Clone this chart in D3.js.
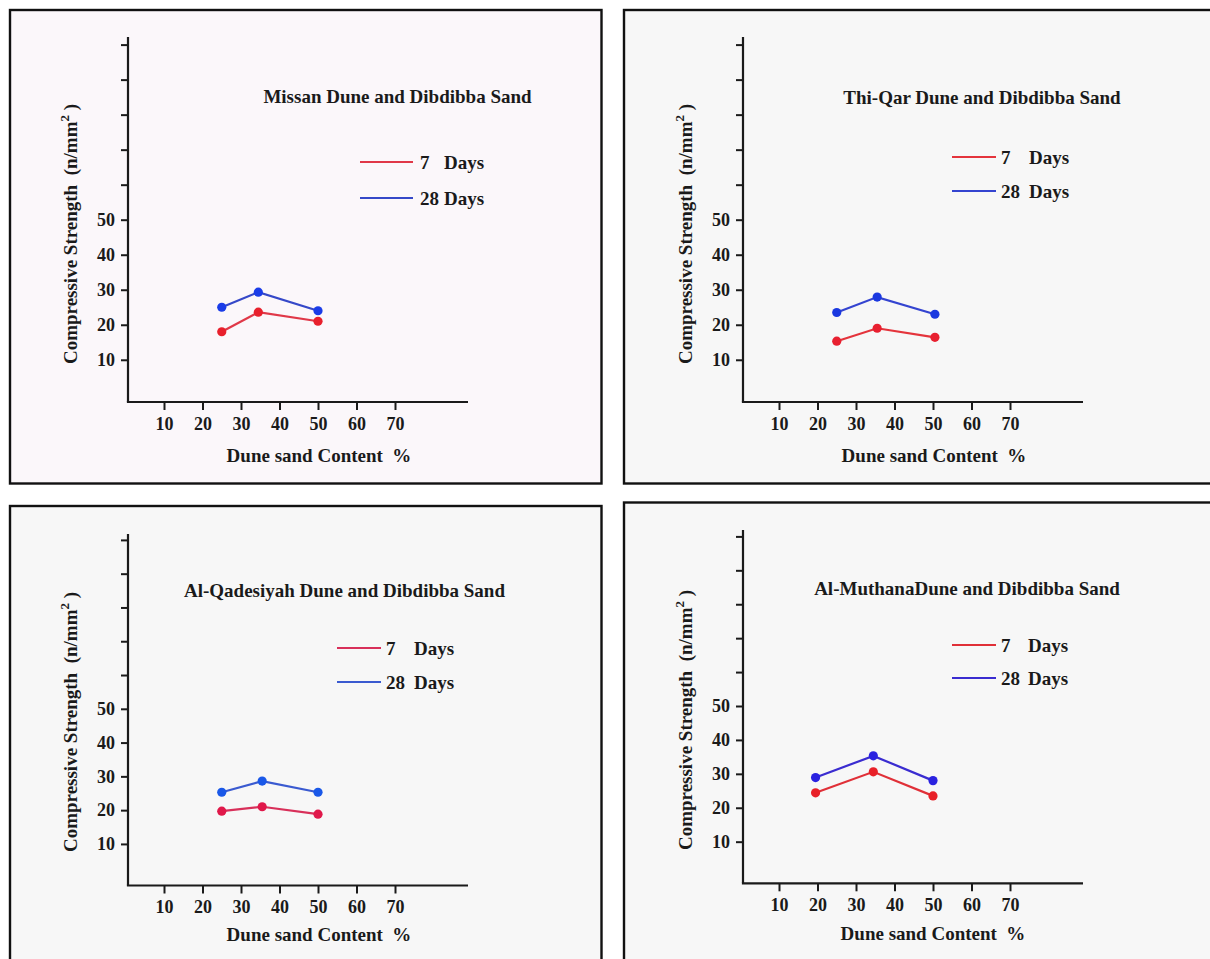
<!DOCTYPE html>
<html>
<head>
<meta charset="utf-8">
<script src="https://cdn.jsdelivr.net/npm/d3@7"></script>
<style>
  html, body { margin: 0; padding: 0; background: #ffffff; }
  svg { display: block; }
  text { font-family: "Liberation Serif", "Times New Roman", serif; font-weight: bold; fill: #1a1a1a; white-space: pre; }
</style>
</head>
<body>
<svg id="chart" width="1210" height="959"></svg>
<script>
// ---------------- DATA ----------------
const panelTitles = [
  "Missan Dune and Dibdibba Sand",
  "Thi-Qar Dune and Dibdibba Sand",
  "Al-Qadesiyah Dune and Dibdibba Sand",
  "Al-MuthanaDune and Dibdibba Sand"
];
const duneContent = [
  [25, 34.5, 50],
  [25, 35.5, 50.5],
  [25, 35.5, 50],
  [19.5, 34.5, 50]
];
const strength7Days = [
  [18, 23.6, 21],
  [15.3, 19, 16.4],
  [19.7, 21, 18.8],
  [24.4, 30.6, 23.5]
];
const strength28Days = [
  [25, 29.3, 24],
  [23.5, 27.9, 23],
  [25.3, 28.6, 25.3],
  [28.9, 35.3, 28]
];
const legendNumbers = ["7", "28"];
const legendWord = "Days";
const xTickValues = [10, 20, 30, 40, 50, 60, 70];
const yTickValues = [10, 20, 30, 40, 50, 60, 70, 80, 90, 100];
const yLabelledTicks = [10, 20, 30, 40, 50];
const xAxisTitle = "Dune sand Content  %";
const yAxisTitleMain = "Compressive Strength  (n/mm";
const yAxisTitleSup = "2";
const yAxisTitleEnd = " )";

// ---------------- LAYOUT / STYLE ----------------
const layout = [
  {box: [10, 10], bg: "#fbf7fa", ox: 128, xEnd: 468, xAxisY: 402, axisTop: 37, y0: 394.8, y100: 44.6,
   titleX: 397.5, titleY: 103, legX1: 360, legX2: 413, legY: [162, 198], legNum: 420, legDays: 444,
   xTitleX: 319, xTitleY: 462, yTitleX: 70, yTitleY: 234,
   red: "#e03848", redDot: "#e8202c", blue: "#3548c8", blueDot: "#1a3ce8"},
  {box: [624, 10], bg: "#f7f7f7", ox: 743, xEnd: 1083, xAxisY: 402, axisTop: 37, y0: 394.8, y100: 44.6,
   titleX: 982, titleY: 104, legX1: 952, legX2: 996, legY: [157, 191], legNum: 1001, legDays: 1029,
   xTitleX: 934, xTitleY: 462, yTitleX: 685, yTitleY: 234,
   red: "#e4343c", redDot: "#e82030", blue: "#3444d0", blueDot: "#1a38e0"},
  {box: [10, 506], bg: "#f7f7f7", ox: 128, xEnd: 468, xAxisY: 885.5, axisTop: 534, y0: 877.7, y100: 539.9,
   titleX: 344.5, titleY: 597, legX1: 337, legX2: 381, legY: [648, 682], legNum: 386, legDays: 414,
   xTitleX: 319, xTitleY: 941, yTitleX: 70, yTitleY: 722,
   red: "#d8305a", redDot: "#e0184a", blue: "#3a5ad0", blueDot: "#1a58e8"},
  {box: [624, 502.5], bg: "#f7f7f7", ox: 743, xEnd: 1083, xAxisY: 883.3, axisTop: 530, y0: 875.6, y100: 536.4,
   titleX: 967, titleY: 595, legX1: 952, legX2: 996, legY: [645, 678], legNum: 1001, legDays: 1028,
   xTitleX: 933, xTitleY: 940, yTitleX: 685, yTitleY: 720,
   red: "#e03038", redDot: "#e82028", blue: "#3a2cd0", blueDot: "#2a22e0"}
];

const svg = d3.select("#chart");
svg.append("rect").attr("x", 0).attr("y", 0).attr("width", 1210).attr("height", 959).attr("fill", "#ffffff");

layout.forEach((L, i) => {
  const g = svg.append("g").attr("class", "panel");

  // panel box
  g.append("rect")
    .attr("x", L.box[0]).attr("y", L.box[1])
    .attr("width", i % 2 === 0 ? 591.5 : 620)
    .attr("height", i < 2 ? 473.5 : 480)
    .attr("fill", L.bg).attr("stroke", "#111").attr("stroke-width", 2.4);

  const x = d3.scaleLinear().domain([0, 70]).range([L.ox - 2.5, L.ox - 2.5 + 269.5]);
  const y = d3.scaleLinear().domain([0, 100]).range([L.y0, L.y100]);

  // axes lines
  g.append("line").attr("x1", L.ox).attr("x2", L.ox).attr("y1", L.axisTop).attr("y2", L.xAxisY)
    .attr("stroke", "#1a1a1a").attr("stroke-width", 2.2);
  g.append("line").attr("x1", L.ox - 1.1).attr("x2", L.xEnd).attr("y1", L.xAxisY).attr("y2", L.xAxisY)
    .attr("stroke", "#1a1a1a").attr("stroke-width", 2.2);

  // x axis ticks
  const xa = g.append("g").attr("transform", `translate(0,${L.xAxisY})`)
    .call(d3.axisBottom(x).tickValues(xTickValues).tickSize(8).tickPadding(7).tickFormat(d3.format("d")));
  xa.select(".domain").remove();
  xa.selectAll(".tick line").attr("stroke", "#1a1a1a").attr("stroke-width", 2);
  xa.selectAll(".tick text").attr("font-size", 18).attr("font-family", null).attr("fill", "#1a1a1a");

  // y axis ticks
  const ya = g.append("g").attr("transform", `translate(${L.ox},0)`)
    .call(d3.axisLeft(y).tickValues(yTickValues).tickSize(7).tickPadding(6)
      .tickFormat(d => yLabelledTicks.includes(d) ? d3.format("d")(d) : ""));
  ya.select(".domain").remove();
  ya.selectAll(".tick line").attr("stroke", "#1a1a1a").attr("stroke-width", 2);
  ya.selectAll(".tick text").attr("font-size", 18).attr("font-family", null).attr("fill", "#1a1a1a");

  // series
  const series = [
    {vals: strength7Days[i], line: L.red, dot: L.redDot},
    {vals: strength28Days[i], line: L.blue, dot: L.blueDot}
  ];
  const lineGen = d3.line().x(d => x(d[0])).y(d => y(d[1]));
  series.forEach(s => {
    const pts = duneContent[i].map((xv, k) => [xv, s.vals[k]]);
    g.append("path").attr("d", lineGen(pts)).attr("fill", "none")
      .attr("stroke", s.line).attr("stroke-width", 2.2);
    g.selectAll(null).data(pts).enter().append("circle")
      .attr("cx", d => x(d[0])).attr("cy", d => y(d[1])).attr("r", 4.6)
      .attr("fill", s.dot);
  });

  // title
  g.append("text").attr("x", L.titleX).attr("y", L.titleY).attr("text-anchor", "middle")
    .attr("font-size", 19).text(panelTitles[i]);

  // legend
  legendNumbers.forEach((num, k) => {
    const col = k === 0 ? L.red : L.blue;
    g.append("line").attr("x1", L.legX1).attr("x2", L.legX2)
      .attr("y1", L.legY[k]).attr("y2", L.legY[k])
      .attr("stroke", col).attr("stroke-width", 2);
    const t = g.append("text").attr("y", L.legY[k]).attr("dy", "0.35em").attr("font-size", 19);
    t.append("tspan").attr("x", L.legNum).text(num);
    t.append("tspan").attr("x", L.legDays).text(legendWord);
  });

  // x axis title
  g.append("text").attr("x", L.xTitleX).attr("y", L.xTitleY).attr("text-anchor", "middle")
    .attr("font-size", 19).text(xAxisTitle);

  // y axis title
  const yt = g.append("text")
    .attr("transform", `translate(${L.yTitleX},${L.yTitleY}) rotate(-90)`)
    .attr("text-anchor", "middle").attr("dy", "0.35em").attr("font-size", 19);
  yt.append("tspan").text(yAxisTitleMain);
  yt.append("tspan").attr("font-size", 13).attr("dy", "-0.6em").text(yAxisTitleSup);
  yt.append("tspan").attr("dy", "0.45em").text(yAxisTitleEnd);
});
</script>
</body>
</html>
